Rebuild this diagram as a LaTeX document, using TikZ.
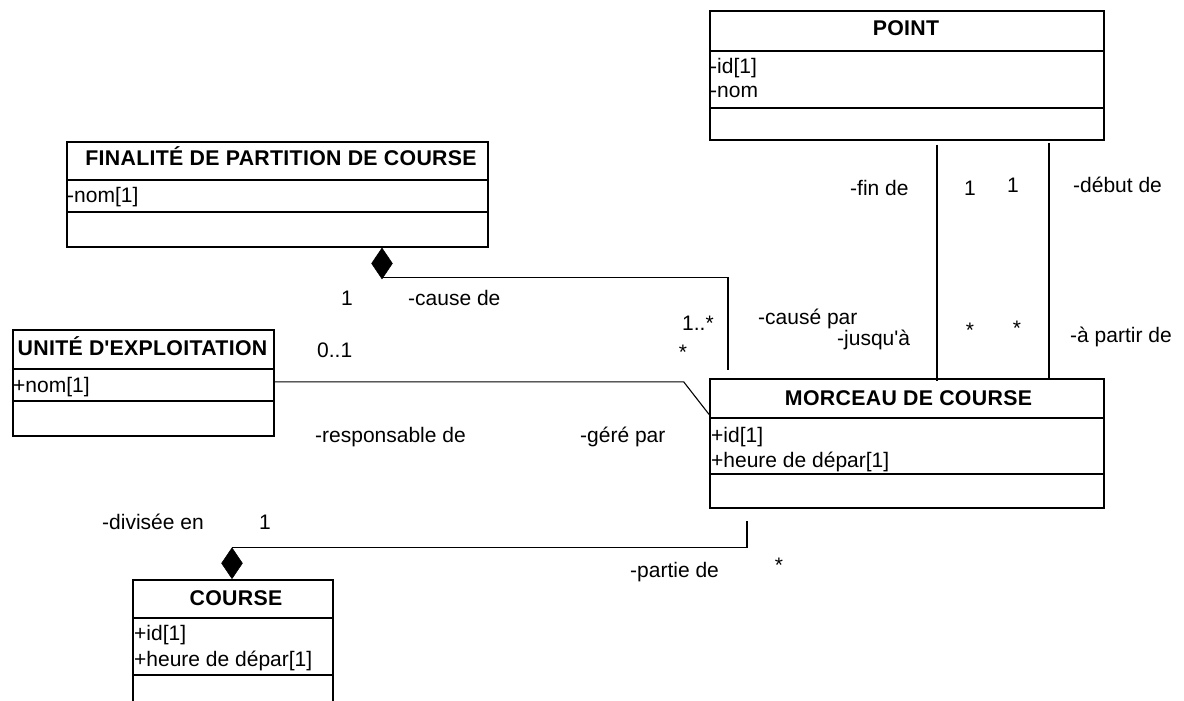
\documentclass[tikz,border=0pt]{standalone}
\usepackage{fontspec}
\setmainfont{Liberation Sans}
\newfontfamily\tfont{Liberation Sans}[LetterSpace=1.5]
\usetikzlibrary{shapes.geometric}
\begin{document}
\begin{tikzpicture}[x=1pt,y=-1pt,
  box/.style={draw, line width=1.7pt, inner sep=0, anchor=north west, rectangle, minimum width=#1},
  conn/.style={line width=1.1pt},
  lbl/.style={inner sep=0, font=\fontsize{21}{24}\selectfont},
  ttl/.style={inner sep=0, anchor=base, font=\tfont\bfseries\fontsize{21.3}{24}\selectfont},
  attr/.style={inner sep=0, anchor=base west, font=\fontsize{21}{24}\selectfont},
  dia/.style={diamond, fill=black, draw=black, line width=0.5pt, inner sep=0, minimum width=21pt, minimum height=31pt}]
\useasboundingbox (0,0) rectangle (1184,701);
\fill[white] (0,0) rectangle (1184,701);
\clip (0,0) rectangle (1184,701);

% POINT
\node (pT) [box=394pt, minimum height=40pt] at (709,10) {};
\node (pA) [box=394pt, minimum height=57pt] at (709,50) {};
\node (pM) [box=394pt, minimum height=32pt] at (709,107) {};
\node (pTt) [ttl] at (906,36) {POINT};
\node (pA1) [attr] at (710,74) {-id[1]};
\node (pA2) [attr] at (710,98) {-nom};

% FINALITE
\node (fT) [box=421pt, minimum height=38pt] at (66,141) {};
\node (fA) [box=421pt, minimum height=32pt] at (66,179) {};
\node (fM) [box=421pt, minimum height=35pt] at (66,211) {};
\node (fTt) [ttl] at (281,165) {FINALITÉ DE PARTITION DE COURSE};
\node (fA1) [attr] at (67,202) {-nom[1]};

% UNITE
\node (uT) [box=261pt, minimum height=39pt] at (12,329) {};
\node (uA) [box=261pt, minimum height=32pt] at (12,368) {};
\node (uM) [box=261pt, minimum height=35pt] at (12,400) {};
\node (uTt) [ttl] at (142.5,355) {UNITÉ D\textquotesingle EXPLOITATION};
\node (uA1) [attr] at (13,392) {+nom[1]};

% MORCEAU
\node (mT) [box=394pt, minimum height=39pt] at (709,378) {};
\node (mA) [box=394pt, minimum height=56pt] at (709,417) {};
\node (mM) [box=394pt, minimum height=34pt] at (709,473) {};
\node (mTt) [ttl] at (908.5,405) {MORCEAU DE COURSE};
\node (mA1) [attr] at (711,442) {+id[1]};
\node (mA2) [attr] at (711,467) {+heure de dépar[1]};

% COURSE
\node (cT) [box=200pt, minimum height=38pt] at (132,579) {};
\node (cA) [box=200pt, minimum height=57pt] at (132,617) {};
\node (cM) [box=200pt, minimum height=45pt] at (132,674) {};
\node (cTt) [ttl] at (236,605) {COURSE};
\node (cA1) [attr] at (134,640) {+id[1]};
\node (cA2) [attr] at (134,666) {+heure de dépar[1]};

% diamonds
\node (d1) [dia, anchor=north] at (fM.south -| 382,0) {};
\node (d2) [dia, anchor=south] at (cT.north -| 232,0) {};

% connectors
\draw[conn] ([xshift=228pt,yshift=-4pt]pM.south west) -- ([xshift=228pt,yshift=-3pt]mT.north west);
\draw[conn] ([xshift=340pt,yshift=-2pt]pM.south west) -- ([xshift=340pt]mT.north west);
\draw[conn] ([yshift=2pt]d1.south) -| ([xshift=19pt,yshift=8pt]mT.north west);
\draw[conn] ([yshift=3pt]uA.east) -- ++(409,0) coordinate (ubend) -- ([yshift=-16pt]mT.west);
\draw[conn] (d2.north) -| ([xshift=38pt,yshift=-12pt]mM.south west);

% labels
\node (lfin) [lbl, anchor=west] at (850,188) {-fin de};
\node (l1a) [lbl] at (970,188) {1};
\node (l1b) [lbl] at (1013,185) {1};
\node (ldeb) [lbl, anchor=west] at (1073,185) {-début de};
\node (lcp) [lbl, anchor=west] at (758,319) {-causé par};
\node (ljus) [lbl, anchor=west] at (837,340) {-jusqu\textquotesingle à};
\node (st1) [lbl] at (970,330) {*};
\node (st2) [lbl] at (1017,328) {*};
\node (lap) [lbl, anchor=west] at (1070,337) {-à partir de};
\node (l1c) [lbl] at (347,298) {1};
\node (lcd) [lbl, anchor=west] at (408,298) {-cause de};
\node (l1s) [lbl, anchor=west] at (682,323) {1..*};
\node (l01) [lbl, anchor=west] at (317,350) {0..1};
\node (st3) [lbl] at (683,352) {*};
\node (lresp) [lbl, anchor=west] at (315,437) {-responsable de};
\node (lgere) [lbl, anchor=west] at (580,437) {-géré par};
\node (ldiv) [lbl, anchor=west] at (102,522) {-divisée en};
\node (l1d) [lbl] at (265,522) {1};
\node (lpart) [lbl, anchor=west] at (630,572) {-partie de};
\node (st4) [lbl] at (779,565) {*};
\end{tikzpicture}
\end{document}
